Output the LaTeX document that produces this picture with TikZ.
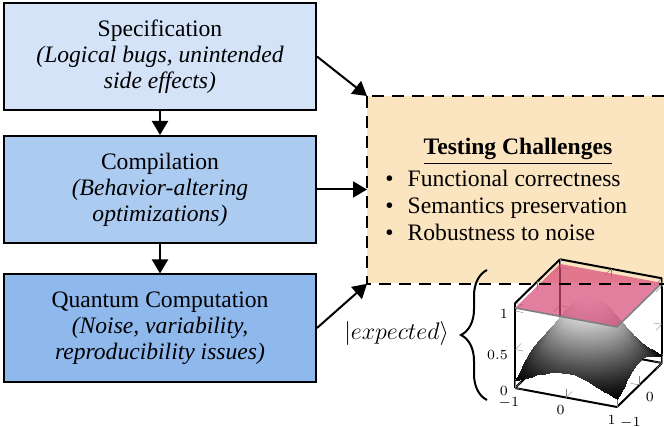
\documentclass[tikz,border=0pt]{standalone}
\usepackage[no-math]{fontspec}
\setmainfont{Liberation Serif}
\usepackage{amsmath}
\usepackage{pgfplots}
\pgfplotsset{compat=1.18}
\usetikzlibrary{arrows.meta,decorations.pathreplacing,positioning,calc}

\definecolor{specblue}{RGB}{212,227,247}
\definecolor{compblue}{RGB}{172,203,241}
\definecolor{quantblue}{RGB}{143,184,236}
\definecolor{testorange}{RGB}{251,228,192}
\definecolor{planepink}{RGB}{214,72,118}

\tikzset{
  stage/.style={draw, line width=1pt, minimum width=156pt, minimum height=53.5pt,
    align=center, font=\fontsize{11.8}{13}\selectfont},
  flow/.style={line width=1pt, -{Triangle[length=7pt,width=8pt]}},
  testline/.style={line width=1pt, dash pattern=on 6pt off 4pt},
}

\begin{document}
\begin{tikzpicture}[x=0.5pt,y=-0.5pt]
            \useasboundingbox (0,0) rectangle (664,427);

            % pipeline stages
            \node[stage, fill=specblue] (spec) at (160,56.5)
            {Specification\\\textit{(Logical bugs, unintended}\\\textit{side effects)}};
            \node[stage, fill=compblue] (comp) at (160,189.5)
            {Compilation\\\textit{(Behavior-altering}\\\textit{optimizations)}};
            \node[stage, fill=quantblue] (qc) at (160,328)
            {Quantum Computation\\\textit{(Noise, variability,}\\\textit{reproducibility issues)}};

            % challenges box
            \node[fill=testorange, inner sep=0, minimum width=170pt, minimum height=93.5pt,
              anchor=north west] (tests) at (367,96) {};
            \node[anchor=base, font=\fontsize{11.8}{13}\selectfont\bfseries] (title) at (518,155)
            {\underline{Testing Challenges}};
            \foreach \txt [count=\i] in {Functional correctness, Semantics preservation, Robustness to noise}
            \node[anchor=base west, inner sep=0, font=\fontsize{11.8}{13}\selectfont] (item\i) at (385,160+27*\i)
            {\textbullet\hspace{7pt}\txt};

            \draw[flow] (spec) -- (comp);
            \draw[flow] (comp) -- (qc);
            \draw[flow] (spec.east) -- (tests.north west);
            \draw[flow] (comp.east) -- (comp.east -| tests.west);
            \draw[flow] (qc.east) -- (tests.south west);

            % expected state
            \coordinate (brbot) at (487,400);
            \coordinate (brtop) at (487,270);
            \draw[line width=1pt, decorate, decoration={brace, amplitude=13pt}] (brbot) -- (brtop);
            \node[anchor=east, font=\fontsize{11.8}{13}\selectfont] (ket) at (456,334) {$|expected\rangle$};

            \coordinate (origin) at (588.5,375.5);
            \begin{axis}[at={(origin)}, anchor=origin,
                x={(25.5pt,-4.75pt)}, y={(11.25pt,11pt)}, z={(0pt,38.5pt)},
                xmin=-1, xmax=1, ymin=-1, ymax=1, zmin=0, zmax=1.1,
                xtick={-1,0,1}, ytick={-1,0,1}, ztick={0,0.5,1},
                tick label style={font=\fontsize{7}{8}\selectfont},
                major tick style={gray}, axis line style={line width=1pt},
                colormap/blackwhite, clip=false]
              \addplot3[surf, shader=interp, domain=-1:1, y domain=-1:1, samples=25]
                {exp(-1.15*(x^2+y^2))};
              \fill[planepink, opacity=0.7] (-1,-1,1.04) -- (1,-1,1.04) -- (1,1,1.04) -- (-1,1,1.04) -- cycle;
              \draw[gray, line width=0.8pt] (-1,-1,1.04) -- (1,-1,1.04) -- (1,1,1.04);
            \end{axis}

            \draw[testline] (tests.north west) rectangle (tests.south east);
\end{tikzpicture}
\end{document}
